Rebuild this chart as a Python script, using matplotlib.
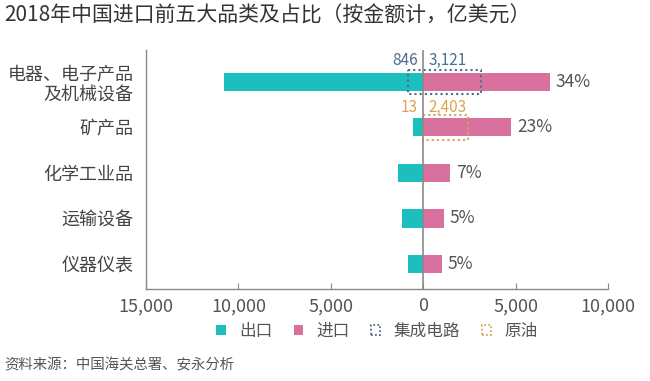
import matplotlib
matplotlib.use('Agg')
import matplotlib.pyplot as plt
from matplotlib.patches import Patch, Rectangle
from matplotlib import ticker

plt.rcParams['font.family'] = ['Noto Sans CJK SC', 'DejaVu Sans']

# data (亿美元)
categories = ['电器、电子产品\n及机械设备', '矿产品', '化学工业品', '运输设备', '仪器仪表']
exports = [10800, 530, 1380, 1170, 800]
imports = [6850, 4770, 1470, 1120, 1030]
shares = ['34%', '23%', '7%', '5%', '5%']
ic_values = [846, 3121]      # 集成电路: 出口, 进口
oil_values = [13, 2403]      # 原油: 出口, 进口

teal = '#1cbfbe'
pink = '#d9719f'
ic_color = '#4a6d8c'
oil_color = '#d9a552'
grey = '#555555'

fig = plt.figure(figsize=(6.5, 3.81), dpi=100)
ax = fig.add_axes([0.2246, 0.2415, 0.7108, 0.6273])

pos = list(range(len(categories)))
ax.barh(pos, [-v for v in exports], height=0.4, color=teal, zorder=2)
ax.barh(pos, imports, height=0.4, color=pink, zorder=2)

# dotted boxes for 集成电路 and 原油
box_h = 0.54
ax.add_patch(Rectangle((-ic_values[0], 0 - box_h / 2), sum(ic_values), box_h,
                       fill=False, edgecolor=ic_color, linestyle=(0, (1, 1.5)),
                       linewidth=1.5, zorder=3))
ax.add_patch(Rectangle((-oil_values[0], 1 - box_h / 2), sum(oil_values), box_h,
                       fill=False, edgecolor=oil_color, linestyle=(0, (1, 1.5)),
                       linewidth=1.5, zorder=3))

ax.axvline(0, color='#8a8a8a', linewidth=1.2, zorder=4)

# value labels above the boxes
label_y = [0 - 0.46, 1 - 0.43]
for y, vals, c in zip(label_y, [ic_values, oil_values], [ic_color, oil_color]):
    ax.annotate(f'{vals[0]:,}', (0, y), xytext=(-4, 0), textcoords='offset points',
                ha='right', va='center', fontsize=11, color=c)
    ax.annotate(f'{vals[1]:,}', (0, y), xytext=(4, 0), textcoords='offset points',
                ha='left', va='center', fontsize=11, color=c)

# share labels
for p, v, s in zip(pos, imports, shares):
    ax.annotate(s, (v, p), xytext=(4, 0), textcoords='offset points',
                ha='left', va='center', fontsize=12.5, color=grey)

ax.set_xlim(-15000, 10000)
ax.set_ylim(4.55, -0.70)
ax.set_xticks([-15000, -10000, -5000, 0, 5000, 10000])
ax.xaxis.set_major_formatter(ticker.FuncFormatter(lambda x, p: f'{abs(x):,.0f}'))
ax.set_yticks(pos)
ax.set_yticklabels(categories, fontsize=13, color='#444444', ha='right')

ax.tick_params(axis='x', direction='in', length=4, color='#888888',
               labelsize=13, labelcolor=grey, pad=6)
ax.tick_params(axis='y', length=0, pad=9)

for side in ['top', 'right']:
    ax.spines[side].set_visible(False)
for side in ['left', 'bottom']:
    ax.spines[side].set_color('#888888')
    ax.spines[side].set_linewidth(1.0)

handles = [
    Patch(facecolor=teal, edgecolor='none'),
    Patch(facecolor=pink, edgecolor='none'),
    Patch(facecolor='none', edgecolor=ic_color, linestyle=(0, (1, 1.2)), linewidth=1.3),
    Patch(facecolor='none', edgecolor=oil_color, linestyle=(0, (1, 1.2)), linewidth=1.3),
]
leg = ax.legend(handles, ['出口', '进口', '集成电路', '原油'], loc='center',
                bbox_to_anchor=(0.5, -0.176), ncol=4, frameon=False,
                fontsize=12, handlelength=0.55, handleheight=0.55,
                handletextpad=0.8, columnspacing=1.3)
for t in leg.get_texts():
    t.set_color(grey)

fig.text(0.006, 0.958, '2018年中国进口前五大品类及占比（按金额计，亿美元）',
         fontsize=15, color='#333333', ha='left', va='center')
fig.text(0.006, 0.040, '资料来源：中国海关总署、安永分析',
         fontsize=10.4, color=grey, ha='left', va='center')

fig.savefig('out.png', dpi=100, facecolor='white')
